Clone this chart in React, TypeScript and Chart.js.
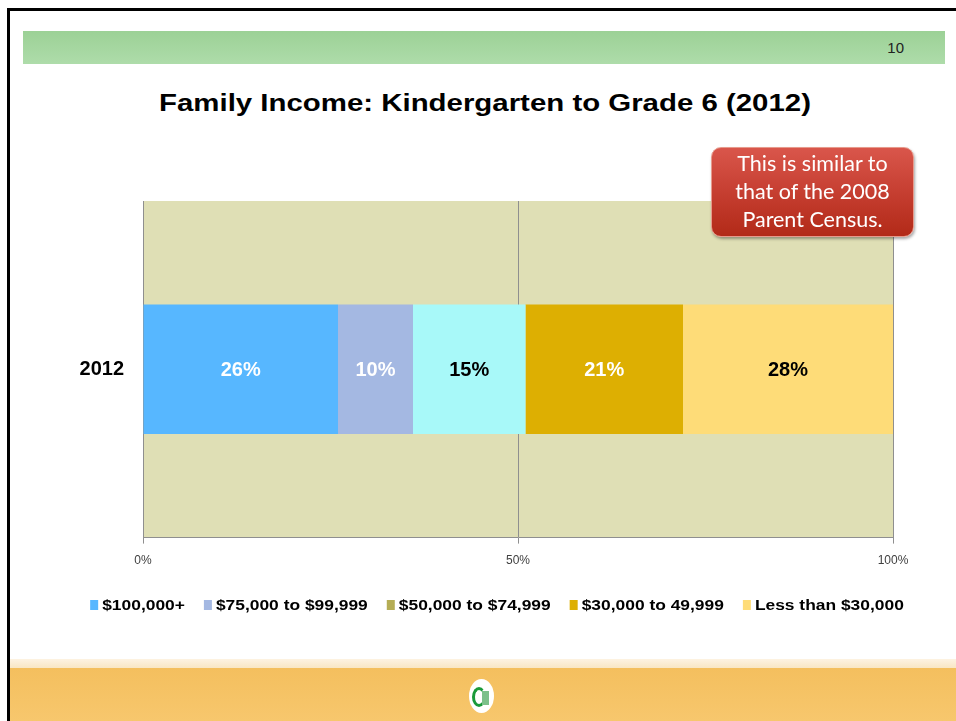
import React, { useEffect, useRef } from "react";
import { Chart, registerables } from "chart.js";

Chart.register(...registerables);

// ---- data ----
const categories = ["2012"];
const seriesNames = [
  "$100,000+",
  "$75,000 to $99,999",
  "$50,000 to $74,999",
  "$30,000 to 49,999",
  "Less than $30,000",
];
const share100k = [26];
const share75k = [10];
const share50k = [15];
const share30k = [21];
const shareUnder30k = [28];
const seriesValues = [share100k, share75k, share50k, share30k, shareUnder30k];
const barColors = ["#57b7ff", "#a4b8e2", "#a8f9f9", "#ddaf02", "#fedc78"];
const legendColors = ["#57b7ff", "#a4b8e2", "#b5ad55", "#ddaf02", "#fedc78"];
const labelColors = ["#ffffff", "#ffffff", "#000000", "#ffffff", "#000000"];
const xTickValues = [0, 50, 100];

const FONT = '"Liberation Sans", Arial, Helvetica, sans-serif';

const plotBgPlugin = {
  id: "plotBg",
  beforeDraw(chart: any) {
    const { ctx, chartArea } = chart;
    ctx.save();
    ctx.fillStyle = "#dfdfb5";
    ctx.fillRect(chartArea.left, chartArea.top, chartArea.right - chartArea.left, chartArea.bottom - chartArea.top);
    ctx.restore();
  },
};

const dataLabelPlugin = {
  id: "dataLabels",
  afterDatasetsDraw(chart: any) {
    const { ctx } = chart;
    ctx.save();
    ctx.font = `bold 20px ${FONT}`;
    ctx.textAlign = "center";
    ctx.textBaseline = "middle";
    chart.data.datasets.forEach((ds: any, i: number) => {
      const meta = chart.getDatasetMeta(i);
      meta.data.forEach((el: any, j: number) => {
        const v = ds.data[j];
        const cx = (el.x + el.base) / 2;
        ctx.fillStyle = labelColors[i];
        ctx.fillText(`${v}%`, cx, el.y + 1);
      });
    });
    ctx.restore();
  },
};

const legendPlugin = {
  id: "customLegend",
  afterDraw(chart: any) {
    const { ctx } = chart;
    ctx.save();
    ctx.font = `bold 15px ${FONT}`;
    ctx.textBaseline = "middle";
    ctx.textAlign = "left";
    const sx = 1.16;
    const box = 8;
    const gap = 4;
    const spacing = 19;
    const widths = seriesNames.map((n) => ctx.measureText(n).width * sx);
    const total =
      widths.reduce((a, w) => a + box + gap + w, 0) + spacing * (seriesNames.length - 1);
    let x = 497 - total / 2;
    const y = 605;
    seriesNames.forEach((name, i) => {
      ctx.fillStyle = legendColors[i];
      ctx.fillRect(x, y - 5, box, 10);
      ctx.fillStyle = "#000000";
      ctx.save();
      ctx.translate(x + box + gap, y + 1);
      ctx.scale(sx, 1);
      ctx.fillText(name, 0, 0);
      ctx.restore();
      x += box + gap + widths[i] + spacing;
    });
    ctx.restore();
  },
};

function ChartCanvas() {
  const ref = useRef<HTMLCanvasElement | null>(null);
  useEffect(() => {
    if (!ref.current) return;
    const chart = new Chart(ref.current, {
      type: "bar",
      data: {
        labels: categories,
        datasets: seriesNames.map((name, i) => ({
          label: name,
          data: seriesValues[i],
          backgroundColor: barColors[i],
          borderWidth: 0,
          barPercentage: 0.385,
          categoryPercentage: 1,
        })),
      },
      options: {
        indexAxis: "y",
        responsive: false,
        animation: false,
        layout: { padding: { left: 60, right: 63, top: 201, bottom: 143 } },
        plugins: {
          legend: { display: false },
          title: { display: false },
          tooltip: { enabled: false },
        },
        scales: {
          x: {
            stacked: true,
            min: 0,
            max: 100,
            afterBuildTicks: (scale: any) => {
              scale.ticks = xTickValues.map((v) => ({ value: v }));
            },
            ticks: {
              callback: (v: any) => `${v}%`,
              font: { family: FONT, size: 12 },
              color: "#404040",
              padding: 10,
              maxRotation: 0,
            },
            grid: { color: "#8f8f8f", lineWidth: 1, drawTicks: true, tickLength: 6 },
            border: { display: true, color: "#8f8f8f" },
          },
          y: {
            stacked: true,
            afterFit: (scale: any) => {
              scale.width = 83;
            },
            ticks: {
              font: { family: FONT, size: 20, weight: "bold" },
              color: "#000000",
              padding: 19,
            },
            grid: { display: false, drawTicks: false },
            border: { display: false },
          },
        },
      },
      plugins: [plotBgPlugin, dataLabelPlugin, legendPlugin],
    } as any);
    return () => chart.destroy();
  }, []);
  return (
    <canvas
      ref={ref}
      width={956}
      height={721}
      style={{ position: "absolute", left: 0, top: 0, width: 956, height: 721 }}
    />
  );
}

export default function App() {
  return (
    <div
      style={{
        position: "absolute",
        left: 0,
        top: 0,
        width: 956,
        height: 721,
        background: "#ffffff",
        overflow: "hidden",
        fontFamily: FONT,
      }}
    >
      {/* slide frame */}
      <div
        style={{
          position: "absolute",
          left: 7,
          top: 8,
          width: 960,
          height: 720,
          borderTop: "3px solid #000",
          borderLeft: "3px solid #000",
        }}
      />
      {/* green header */}
      <div
        style={{
          position: "absolute",
          left: 23,
          top: 31,
          width: 922,
          height: 33,
          background: "linear-gradient(#9cd196, #aedcaa)",
        }}
      >
        <div
          style={{
            position: "absolute",
            right: 41,
            top: 8,
            fontSize: 15,
            color: "#222",
            lineHeight: "18px",
          }}
        >
          10
        </div>
      </div>
      {/* footer */}
      <div
        style={{
          position: "absolute",
          left: 10,
          top: 659,
          width: 950,
          height: 9,
          background: "linear-gradient(#fdf3e2, #f9e6c4)",
        }}
      />
      <div
        style={{
          position: "absolute",
          left: 10,
          top: 668,
          width: 950,
          height: 53,
          background: "linear-gradient(#f4bf5e, #f7c76d)",
        }}
      />
      <div
        style={{
          position: "absolute",
          left: 469,
          top: 679,
          width: 25,
          height: 34,
          borderRadius: "50%",
          background: "#ffffff",
          overflow: "hidden",
        }}
      >
        <div
          style={{
            position: "absolute",
            left: 3,
            top: 8,
            width: 14,
            height: 20,
            borderRadius: "50%",
            border: "3px solid #1a9a3a",
            borderRightColor: "transparent",
            boxSizing: "border-box",
          }}
        />
        <div style={{ position: "absolute", left: 13, top: 12, width: 7, height: 14, background: "#7cc08a" }} />
      </div>
      {/* title */}
      <div
        style={{
          position: "absolute",
          left: 0,
          top: 88,
          width: 970,
          textAlign: "center",
          fontWeight: "bold",
          fontSize: 24,
          lineHeight: "30px",
          color: "#000",
          transform: "scaleX(1.225)",
          transformOrigin: "485px 50%",
        }}
      >
        Family Income: Kindergarten to Grade 6 (2012)
      </div>
      <ChartCanvas />
      {/* callout */}
      <div
        style={{
          position: "absolute",
          left: 711,
          top: 147,
          width: 203,
          height: 90,
          boxSizing: "border-box",
          borderRadius: 10,
          border: "1px solid #e79a8c",
          background: "linear-gradient(#d9564b, #c23a2c 60%, #b22a18)",
          boxShadow: "1px 2px 3px rgba(0,0,0,0.35)",
          color: "#ffffff",
          fontFamily: 'Lato, "Open Sans", sans-serif',
          fontSize: 21.5,
          lineHeight: "28px",
          textAlign: "center",
          paddingTop: 1,
        }}
      >
        This is similar to
        <br />
        that of the 2008
        <br />
        Parent Census.
      </div>
    </div>
  );
}
